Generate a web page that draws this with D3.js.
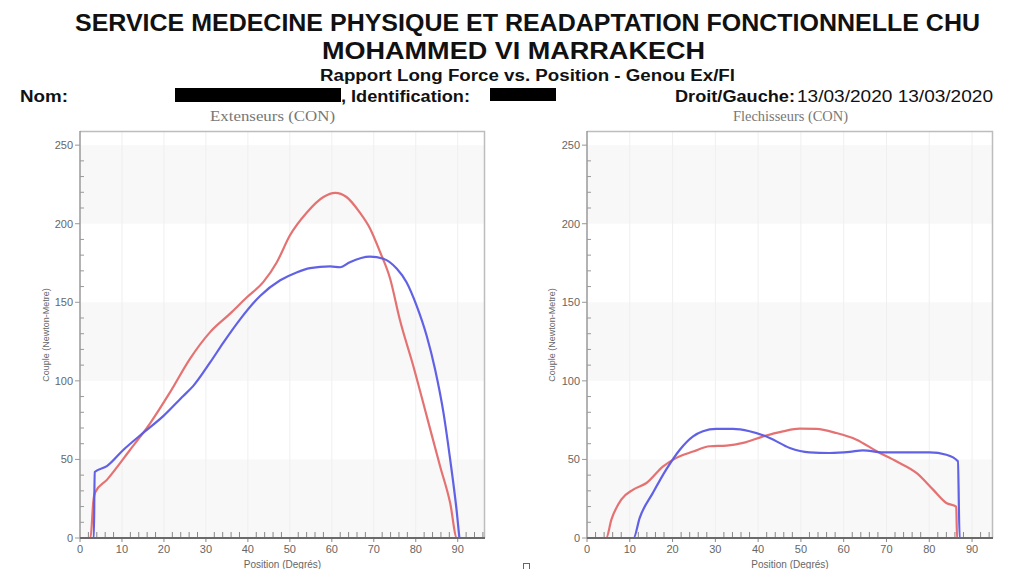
<!DOCTYPE html>
<html>
<head>
<meta charset="utf-8">
<script src="https://cdn.jsdelivr.net/npm/d3@7"></script>
<style>
  html, body { margin: 0; padding: 0; background: #fff; }
  svg { display: block; }
</style>
</head>
<body>
<svg id="chart" width="1016" height="569"></svg>
<script>
// Extenseurs (CON) — position (degrés) and torque (N·m)
const extDroitPos    = [0, 2.5, 3.2, 3.6, 6.4, 11.9, 16.7, 21.4, 26.2, 31, 35.7, 39.7, 43.7, 46.9, 50, 54, 58, 60.8, 63.5, 66.7, 69.1, 71.5, 73.9, 76.2, 79.4, 82.6, 85.8, 88.2, 89.8, 91];
const extDroitTorque = [0, 0, 24, 29, 37, 56, 73, 92.5, 114, 131, 142.6, 153, 163, 175.5, 192.5, 207, 217, 219.6, 217, 207, 197, 182, 165, 139, 109.6, 77.7, 45.7, 22.3, 0, 0];
const extGauchePos    = [0, 3.3, 3.5, 6.4, 10.3, 15.1, 19.9, 24.6, 27, 31, 34.2, 38.1, 42.9, 47.7, 51.6, 54.8, 59.6, 62, 64.3, 69.1, 72.3, 75.5, 77.8, 80.2, 82.6, 84.6, 86.6, 88.2, 89.8, 90.4];
const extGaucheTorque = [0, 0, 42, 45.7, 56, 67, 77.7, 90.4, 96.8, 111.7, 124.5, 139, 154, 164, 169, 171.7, 172.8, 172.3, 175.5, 179, 177.7, 171.3, 162.8, 147.9, 128.7, 107.4, 79.8, 50, 16, 0];

// Flechisseurs (CON)
const flxDroitPos    = [0, 4.5, 5.7, 8, 10.8, 13.9, 17.8, 20.9, 24.8, 28.7, 32.6, 36.5, 41.2, 45.8, 49.7, 53.6, 58.3, 63, 67.7, 72.3, 77, 80.9, 84, 86.3, 86.5, 90];
const flxDroitTorque = [0, 0, 11.7, 24.4, 30.8, 35, 45.6, 51, 55, 58.4, 58.8, 60.5, 64.7, 67.9, 69.6, 69.4, 66.8, 62.6, 55.2, 48.8, 41.4, 30.8, 22.3, 20, 0, 0];
const flxGauchePos    = [0, 10.9, 12.3, 15.4, 18.5, 21.7, 24.8, 27.1, 30.2, 34.1, 38, 42.7, 47.4, 52, 56.7, 61.4, 64.5, 69.2, 73.9, 80.1, 84, 86.7, 87.1, 88];
const flxGaucheTorque = [0, 0, 12.7, 28.7, 43.5, 56.2, 64.7, 67.9, 69.4, 69.4, 67.9, 63.7, 57.3, 54.5, 54.1, 54.8, 55.8, 54.5, 54.5, 54.5, 53, 48.8, 0, 0];

// Axis ticks
const xTickLabels = [0, 10, 20, 30, 40, 50, 60, 70, 80, 90];
const yTickLabels = [0, 50, 100, 150, 200, 250];
const yBands = [[0, 50], [100, 150], [200, 250]];

// Header texts
const titleLines = ["SERVICE MEDECINE PHYSIQUE ET READAPTATION FONCTIONNELLE CHU", "MOHAMMED VI MARRAKECH"];
const reportTitle = "Rapport Long Force vs. Position - Genou Ex/Fl";
const dateText = "13/03/2020 13/03/2020";

const colorDroit = "#e46a6a";
const colorGauche = "#5858e4";

const svg = d3.select("#chart");

// ---------- header ----------
const sans = "'Liberation Sans', Arial, sans-serif";
const narrow = "'Liberation Sans Narrow', 'Liberation Sans', Arial, sans-serif";

svg.append("text").attr("x", 75).attr("y", 31).attr("textLength", 905).attr("lengthAdjust", "spacingAndGlyphs")
  .attr("font-family", narrow).attr("font-weight", "bold").attr("font-size", 23).attr("fill", "#111").text(titleLines[0]);
svg.append("text").attr("x", 322).attr("y", 59).attr("textLength", 383).attr("lengthAdjust", "spacingAndGlyphs")
  .attr("font-family", narrow).attr("font-weight", "bold").attr("font-size", 23).attr("fill", "#111").text(titleLines[1]);
svg.append("text").attr("x", 320).attr("y", 81).attr("textLength", 415).attr("lengthAdjust", "spacingAndGlyphs")
  .attr("font-family", narrow).attr("font-weight", "bold").attr("font-size", 16).attr("fill", "#111").text(reportTitle);

svg.append("text").attr("x", 20).attr("y", 102).attr("textLength", 48).attr("lengthAdjust", "spacingAndGlyphs")
  .attr("font-family", sans).attr("font-weight", "bold").attr("font-size", 16).attr("fill", "#111").text("Nom:");
svg.append("rect").attr("x", 175).attr("y", 88).attr("width", 166).attr("height", 14).attr("fill", "#000");
svg.append("text").attr("x", 341).attr("y", 102).attr("textLength", 129).attr("lengthAdjust", "spacingAndGlyphs")
  .attr("font-family", sans).attr("font-weight", "bold").attr("font-size", 16).attr("fill", "#111").text(", Identification:");
svg.append("rect").attr("x", 490).attr("y", 88).attr("width", 66).attr("height", 13).attr("fill", "#000");
svg.append("text").attr("x", 675).attr("y", 102).attr("textLength", 120).attr("lengthAdjust", "spacingAndGlyphs")
  .attr("font-family", sans).attr("font-weight", "bold").attr("font-size", 16).attr("fill", "#111").text("Droit/Gauche:");
svg.append("text").attr("x", 797).attr("y", 102).attr("textLength", 196).attr("lengthAdjust", "spacingAndGlyphs")
  .attr("font-family", sans).attr("font-size", 16).attr("fill", "#111").text(dateText);

// small checkbox glyph at the page bottom
svg.append("rect").attr("x", 523.5).attr("y", 563.5).attr("width", 6).attr("height", 6)
  .attr("fill", "none").attr("stroke", "#666").attr("stroke-width", 1);

// ---------- panels ----------
function drawPanel(cfg) {
  const x = d3.scaleLinear().domain([0, cfg.xMax]).range([cfg.left, cfg.right]);
  const y = d3.scaleLinear().domain([0, 259]).range([538, 131]);
  const g = svg.append("g");

  // panel title
  g.append("text").attr("x", cfg.titleX).attr("y", 121).attr("textLength", cfg.titleW).attr("lengthAdjust", "spacingAndGlyphs")
    .attr("font-family", "'Liberation Serif', 'Times New Roman', serif").attr("font-size", 14).attr("fill", "#777")
    .text(cfg.title);

  // alternating bands
  g.selectAll(".band").data(yBands).join("rect")
    .attr("x", x(0)).attr("width", x(cfg.xMax) - x(0))
    .attr("y", d => y(d[1])).attr("height", d => y(d[0]) - y(d[1]))
    .attr("fill", "#f8f8f8");

  // vertical grid
  g.selectAll(".vg").data(xTickLabels.filter(d => d > 0)).join("line")
    .attr("x1", d => x(d)).attr("x2", d => x(d)).attr("y1", y(259)).attr("y2", y(0))
    .attr("stroke", "#efefef").attr("stroke-width", 1);

  // frame (top / right)
  g.append("path")
    .attr("d", `M${x(0)},${y(259) + 0.5}H${x(cfg.xMax) - 0.5}V${y(0)}`)
    .attr("fill", "none").attr("stroke", "#bdbdbd").attr("stroke-width", 1.5);

  // curves
  const line = d3.line().x(d => x(d[0])).y(d => y(d[1])).curve(d3.curveMonotoneX);
  cfg.series.forEach(s => {
    g.append("path").datum(d3.zip(s.pos, s.torque))
      .attr("d", line).attr("fill", "none").attr("stroke", s.color)
      .attr("stroke-width", 2.2).attr("stroke-linejoin", "round").attr("opacity", 0.95);
  });

  // y axis
  const yAxisG = g.append("g").attr("transform", `translate(${x(0)},0)`);
  yAxisG.append("line").attr("y1", y(259)).attr("y2", y(0)).attr("stroke", "#9a9a9a").attr("stroke-width", 1.5);
  yAxisG.selectAll(".ymin").data(d3.range(10, 259, 10).filter(v => v % 50 !== 0)).join("line")
    .attr("x1", 0).attr("x2", 4).attr("y1", d => y(d)).attr("y2", d => y(d))
    .attr("stroke", "#999").attr("stroke-width", 1);
  yAxisG.selectAll(".ymaj").data(yTickLabels).join("line")
    .attr("x1", -5).attr("x2", 0).attr("y1", d => y(d)).attr("y2", d => y(d))
    .attr("stroke", "#999").attr("stroke-width", 1);
  yAxisG.selectAll(".ylab").data(yTickLabels).join("text")
    .attr("x", -7).attr("y", d => y(d)).attr("dy", "0.35em").attr("text-anchor", "end")
    .attr("font-family", sans).attr("font-size", 11).attr("fill", "#666").text(d => d);

  // x axis
  const xAxisG = g.append("g").attr("transform", `translate(0,${y(0)})`);
  xAxisG.selectAll(".xmin").data(d3.range(2, cfg.xMax, 2).filter(v => v % 10 !== 0)).join("line")
    .attr("x1", d => x(d)).attr("x2", d => x(d)).attr("y1", 0).attr("y2", -6)
    .attr("stroke", "#888").attr("stroke-width", 1);
  xAxisG.selectAll(".xmaj").data(xTickLabels).join("line")
    .attr("x1", d => x(d)).attr("x2", d => x(d)).attr("y1", 0).attr("y2", 4)
    .attr("stroke", "#888").attr("stroke-width", 1);
  xAxisG.append("line").attr("x1", x(0)).attr("x2", x(cfg.xMax)).attr("stroke", "#6a6a6a").attr("stroke-width", 2);
  xAxisG.selectAll(".xlab").data(xTickLabels).join("text")
    .attr("x", d => x(d)).attr("y", 15).attr("text-anchor", "middle")
    .attr("font-family", sans).attr("font-size", 11).attr("fill", "#666").text(d => d);

  // axis titles
  g.append("text").attr("transform", `translate(${cfg.yTitleX},335) rotate(-90)`)
    .attr("text-anchor", "middle").attr("dy", "0.35em")
    .attr("font-family", sans).attr("font-size", 9).attr("fill", "#666").text("Couple (Newton-Metre)");
  g.append("text").attr("x", (x(0) + x(cfg.xMax)) / 2).attr("y", 568).attr("text-anchor", "middle")
    .attr("font-family", sans).attr("font-size", 10).attr("fill", "#666").text("Position (Degrés)");
}

drawPanel({
  title: "Extenseurs (CON)", titleX: 210, titleW: 125,
  left: 80, right: 485, xMax: 96.5, yTitleX: 46,
  series: [
    { pos: extDroitPos, torque: extDroitTorque, color: colorDroit },
    { pos: extGauchePos, torque: extGaucheTorque, color: colorGauche }
  ]
});

drawPanel({
  title: "Flechisseurs (CON)", titleX: 733, titleW: 115,
  left: 587, right: 993, xMax: 94.9, yTitleX: 552,
  series: [
    { pos: flxDroitPos, torque: flxDroitTorque, color: colorDroit },
    { pos: flxGauchePos, torque: flxGaucheTorque, color: colorGauche }
  ]
});
</script>
</body>
</html>
